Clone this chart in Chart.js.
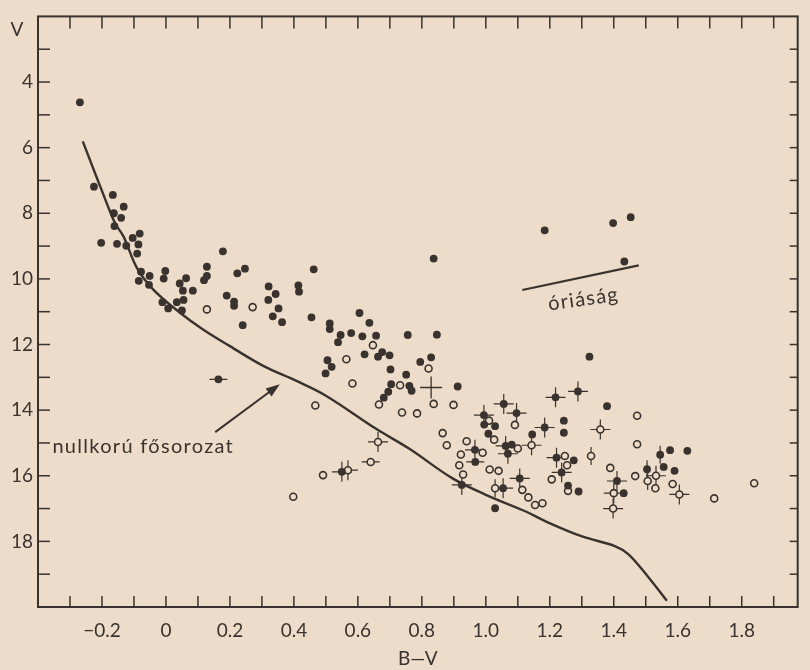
<!DOCTYPE html>
<html><head><meta charset="utf-8">
<script src="https://cdn.jsdelivr.net/npm/chart.js@4/dist/chart.umd.min.js"></script>
<style>html,body{margin:0;padding:0;background:#ecdcc9;}canvas{display:block;}</style>
</head><body>
<canvas id="c" width="810" height="670"></canvas>
<script>
// ---- tick labels ----
const xTickValues = [-0.2, 0, 0.2, 0.4, 0.6, 0.8, 1.0, 1.2, 1.4, 1.6, 1.8];
const xTickLabels = ['\u22120.2', '0', '0.2', '0.4', '0.6', '0.8', '1.0', '1.2', '1.4', '1.6', '1.8'];
const xMinorTicks = [-0.3, -0.2, -0.1, 0, 0.1, 0.2, 0.3, 0.4, 0.5, 0.6, 0.7, 0.8, 0.9, 1.0, 1.1, 1.2, 1.3, 1.4, 1.5, 1.6, 1.7, 1.8, 1.9];
const yTickValues = [4, 6, 8, 10, 12, 14, 16, 18];
const yTickLabels = ['4', '6', '8', '10', '12', '14', '16', '18'];
const yMinorTicks = [3, 4, 5, 6, 7, 8, 9, 10, 11, 12, 13, 14, 15, 16, 17, 18, 19];
const xTitle = 'B\u2014V';
const yTitle = 'V';

// ---- data: [B-V, V] ----
const zamsCurve = [[-0.26,5.81],[-0.184,7.72],[-0.158,8.32],[-0.132,8.72],[-0.09,9.68],[-0.038,10.34],[0.045,11.04],[0.117,11.55],[0.20,12.05],[0.304,12.65],[0.408,13.11],[0.50,13.56],[0.657,14.57],[0.761,15.18],[0.896,16.08],[1.0,16.58],[1.125,17.09],[1.187,17.39],[1.301,17.85],[1.405,18.15],[1.447,18.40],[1.509,19.1],[1.566,19.81]];
const giantLine = [[1.114,10.34],[1.478,9.59]];

const filledStars = [[-0.269,4.62],[-0.225,7.19],[-0.166,7.44],[-0.132,7.80],[-0.163,8.0],[-0.14,8.14],[-0.161,8.39],[-0.2025,8.90],[-0.153,8.93],[-0.124,8.99],[-0.104,8.75],[-0.082,8.62],[-0.086,8.95],[-0.09,9.23],[-0.078,9.78],[-0.085,10.06],[-0.051,9.91],[-0.053,10.18],[-0.002,9.76],[-0.007,9.99],[-0.011,10.71],[0.007,10.90],[0.034,10.71],[0.043,10.14],[0.053,10.36],[0.063,9.98],[0.055,10.64],[0.05,10.96],[0.084,10.36],[0.119,10.04],[0.128,9.91],[0.128,9.63],[0.178,9.16],[0.19,10.51],[0.213,10.69],[0.213,10.82],[0.223,9.83],[0.247,9.69],[0.24,11.41],[0.321,10.23],[0.343,10.46],[0.32,10.64],[0.352,10.90],[0.334,11.14],[0.363,11.32],
[0.462,9.71],[0.414,10.2],[0.416,10.39],[0.455,11.17],[0.837,9.38],[0.512,11.36],[0.512,11.53],[0.605,11.04],[0.636,11.34],[0.546,11.71],[0.579,11.65],[0.538,11.93],[0.614,11.75],[0.657,11.73],[0.756,11.71],[0.847,11.70],[0.505,12.48],[0.518,12.68],[0.499,12.88],[0.621,12.30],[0.663,12.37],[0.676,12.23],[0.699,12.33],[0.702,12.76],[0.795,12.53],[0.829,12.39],[0.751,12.92],[0.704,13.21],[0.761,13.26],[0.768,13.41],[0.695,13.44],[0.681,13.62],[0.912,13.28],
[0.995,14.44],[1.029,14.49],[1.008,14.72],[1.081,15.05],[1.029,16.99],[1.324,12.37],[1.379,13.88],[1.145,14.74],[1.244,14.32],[1.244,14.69],[1.275,15.53],[1.257,16.30],[1.29,16.48],[1.431,16.53],[1.576,15.22],[1.63,15.24],[1.556,15.73],[1.59,15.85],
[1.184,8.52],[1.398,8.30],[1.453,8.12],[1.433,9.47]];

const openStars = [[0.128,10.93],[0.271,10.86],[0.647,12.02],[0.564,12.45],[0.821,12.73],[0.583,13.19],[0.732,13.24],[0.467,13.86],[0.666,13.83],[0.837,13.81],[0.899,13.84],[0.738,14.07],[0.785,14.10],[0.865,14.70],[0.878,15.07],[0.94,14.95],[1.01,14.32],[1.091,14.45],[0.491,15.98],[0.398,16.64],[0.922,15.35],[0.917,15.68],[0.929,15.96],[0.99,15.3],[1.012,15.81],[1.04,15.85],[1.026,14.9],[1.10,15.17],[1.114,16.43],[1.473,14.17],[1.473,15.04],[1.133,16.66],[1.154,16.89],[1.177,16.84],[1.247,15.40],[1.254,15.68],[1.206,16.11],[1.257,16.46],[1.389,15.76],[1.467,16.01],[1.53,16.38],[1.584,16.25],[1.714,16.69],[1.839,16.23]];

const filledCrossStars = [[1.056,13.81],[0.994,14.15],[1.096,14.09],[0.966,15.21],[0.925,16.28],[1.054,16.38],[1.062,15.09],[1.069,15.33],[1.106,16.08],[1.218,13.61],[1.288,13.43],[1.184,14.53],[1.221,15.45],[1.237,15.90],[1.41,16.16],[0.55,15.88]];
const openCrossStars = [[0.663,14.97],[0.569,15.83],[1.143,15.07],[1.358,14.59],[1.40,16.53],[1.398,17.0],[1.532,16.0],[1.605,16.57]];
const filledHBarStars = [[0.164,13.06],[0.967,15.58]];
const openHBarStars = [[0.64,15.58]];
const filledVBarStars = [[1.545,15.36],[1.504,15.80]];
const openVBarStars = [[1.029,16.38],[1.506,16.16],[1.329,15.40]];
const bareCross = [[0.829,13.31]];

// annotations (data units)
const arrowFrom = [0.154, 14.67];
const arrowTo = [0.356, 13.21];
const zamsLabel = {text: 'nullkorú fősorozat', at: [-0.355, 15.12]};
const giantLabel = {text: 'óriáság', at: [1.305, 10.62]};

// ---- styles ----
const INK = '#3a322e';
const PAPER = '#ecdcc9';
const FONT = 'Lato, "Open Sans", sans-serif';

const pts = a => a.map(p => ({x: p[0], y: p[1]}));

const paperPlugin = {
  id: 'paper',
  beforeDraw(chart) {
    const ctx = chart.ctx;
    ctx.save(); ctx.fillStyle = PAPER; ctx.fillRect(0, 0, chart.width, chart.height); ctx.restore();
  },
  afterDatasetsDraw(chart) {
    const {ctx, chartArea: a, scales: {x, y}} = chart;
    ctx.save();
    ctx.strokeStyle = INK; ctx.fillStyle = INK; ctx.lineCap = 'butt';
    const line = (x1, y1, x2, y2) => { ctx.beginPath(); ctx.moveTo(x1, y1); ctx.lineTo(x2, y2); ctx.stroke(); };
    ctx.lineWidth = 2;
    ctx.strokeRect(a.left, a.top, a.right - a.left, a.bottom - a.top);
    ctx.lineWidth = 1.5;
    xMinorTicks.forEach(v => { const p = x.getPixelForValue(v); line(p, a.bottom, p, a.bottom - 11); line(p, a.top, p, a.top + 12); });
    yMinorTicks.forEach(v => { const p = y.getPixelForValue(v); line(a.left, p, a.left + 12, p); line(a.right, p, a.right - 8, p); });
    // arrow
    const x1 = x.getPixelForValue(arrowFrom[0]), y1 = y.getPixelForValue(arrowFrom[1]);
    const x2 = x.getPixelForValue(arrowTo[0]), y2 = y.getPixelForValue(arrowTo[1]);
    ctx.lineWidth = 2;
    const ang = Math.atan2(y2 - y1, x2 - x1);
    line(x1, y1, x2 - 8 * Math.cos(ang), y2 - 8 * Math.sin(ang));
    ctx.beginPath();
    ctx.moveTo(x2, y2);
    ctx.lineTo(x2 - 14 * Math.cos(ang) + 5 * Math.sin(ang), y2 - 14 * Math.sin(ang) - 5 * Math.cos(ang));
    ctx.lineTo(x2 - 14 * Math.cos(ang) - 5 * Math.sin(ang), y2 - 14 * Math.sin(ang) + 5 * Math.cos(ang));
    ctx.closePath(); ctx.fill();
    // texts
    ctx.font = '20px ' + FONT;
    ctx.textBaseline = 'middle';
    ctx.textAlign = 'left';
    if ('letterSpacing' in ctx) ctx.letterSpacing = '1.3px';
    ctx.fillText(zamsLabel.text, x.getPixelForValue(zamsLabel.at[0]), y.getPixelForValue(zamsLabel.at[1]));
    ctx.save();
    ctx.translate(x.getPixelForValue(giantLabel.at[0]), y.getPixelForValue(giantLabel.at[1]));
    ctx.rotate(-8 * Math.PI / 180);
    ctx.textAlign = 'center';
    ctx.fillText(giantLabel.text, 0, 0);
    ctx.restore();
    if ('letterSpacing' in ctx) ctx.letterSpacing = '0px';
    ctx.font = '19px ' + FONT;
    ctx.textAlign = 'center';
    ctx.fillText(yTitle, a.left - 21, y.getPixelForValue(2.42));
    ctx.restore();
  }
};

const dotBase = {showLine: false, pointStyle: 'circle'};
new Chart(document.getElementById('c'), {
  type: 'scatter',
  data: {
    datasets: [
      {...dotBase, data: pts(filledStars), pointRadius: 3.9, backgroundColor: INK, borderWidth: 0, order: 1},
      {...dotBase, data: pts(filledCrossStars), pointRadius: 3.9, backgroundColor: INK, borderWidth: 0, order: 1},
      {...dotBase, data: pts(filledHBarStars), pointRadius: 3.9, backgroundColor: INK, borderWidth: 0, order: 1},
      {...dotBase, data: pts(filledVBarStars), pointRadius: 3.9, backgroundColor: INK, borderWidth: 0, order: 1},
      {...dotBase, data: pts(openStars), pointRadius: 3.5, backgroundColor: PAPER, borderColor: INK, borderWidth: 1.6, order: 1},
      {...dotBase, data: pts(openCrossStars), pointRadius: 3.5, backgroundColor: PAPER, borderColor: INK, borderWidth: 1.6, order: 1},
      {...dotBase, data: pts(openHBarStars), pointRadius: 3.5, backgroundColor: PAPER, borderColor: INK, borderWidth: 1.6, order: 1},
      {...dotBase, data: pts(openVBarStars), pointRadius: 3.5, backgroundColor: PAPER, borderColor: INK, borderWidth: 1.6, order: 1},
      {showLine: false, data: pts(filledCrossStars.concat(openCrossStars)), pointStyle: 'cross', pointRadius: 10, borderColor: INK, borderWidth: 1.2, order: 3},
      {showLine: false, data: pts(bareCross), pointStyle: 'cross', pointRadius: 11, borderColor: INK, borderWidth: 1.3, order: 3},
      {showLine: false, data: pts(filledHBarStars.concat(openHBarStars)), pointStyle: 'line', pointRadius: 9, borderColor: INK, borderWidth: 1.2, order: 3},
      {showLine: false, data: pts(filledVBarStars.concat(openVBarStars)), pointStyle: 'line', rotation: 90, pointRadius: 9, borderColor: INK, borderWidth: 1.2, order: 3},
      {showLine: true, data: pts(zamsCurve), borderColor: INK, borderWidth: 2.4, pointRadius: 0, tension: 0.35, order: 4},
      {showLine: true, data: pts(giantLine), borderColor: INK, borderWidth: 2.2, pointRadius: 0, order: 4}
    ]
  },
  options: {
    responsive: false, animation: false, devicePixelRatio: 1,
    layout: {padding: {top: 11, right: 6, left: 0, bottom: 0}},
    plugins: {legend: {display: false}, tooltip: {enabled: false}},
    scales: {
      x: {
        type: 'linear', min: -0.4, max: 1.975, position: 'bottom',
        afterBuildTicks: s => { s.ticks = xTickValues.map(v => ({value: v})); },
        afterFit: s => { s.height = 63; },
        grid: {display: false, drawTicks: false, tickLength: 0},
        border: {display: false},
        ticks: {callback: (v, i) => xTickLabels[i], font: {family: FONT, size: 19}, color: INK, padding: 12, maxRotation: 0, autoSkip: false},
        title: {display: true, text: xTitle, font: {family: FONT, size: 19}, color: INK, padding: {top: 0, bottom: 0}}
      },
      y: {
        type: 'linear', min: 2, max: 20, reverse: true, position: 'left',
        afterBuildTicks: s => { s.ticks = yTickValues.map(v => ({value: v})); },
        afterFit: s => { s.width = 38; },
        grid: {display: false, drawTicks: false, tickLength: 0},
        border: {display: false},
        ticks: {callback: (v, i) => yTickLabels[i], font: {family: FONT, size: 19}, color: INK, padding: 5, autoSkip: false}
      }
    }
  },
  plugins: [paperPlugin]
});
</script>
</body></html>
